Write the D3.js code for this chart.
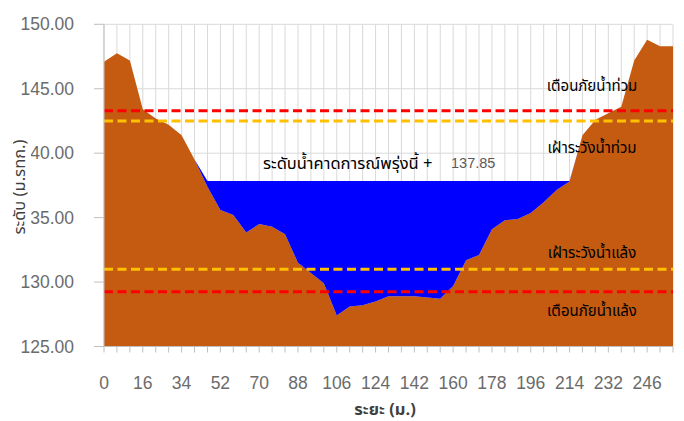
<!DOCTYPE html>
<html><head><meta charset="utf-8">
<script src="https://cdn.jsdelivr.net/npm/d3@7"></script>
<style>body{margin:0;background:#fff}</style>
</head><body>
<svg id="c" width="684" height="421"></svg>
<script>
const distances = [0,6,11,16,22,28,34,40,46,52,58,64,70,76,82,88,94,100,106,112,118,124,130,136,142,148,154,160,166,172,178,184,190,196,202,208,214,220,226,232,236,241,246,250,254];
const ground = [147.1,147.75,147.2,143.4,142.7,142.2,141.4,139.5,137.4,135.6,135.2,133.85,134.5,134.3,133.7,131.5,130.7,129.9,127.4,128.1,128.2,128.5,128.9,128.9,128.9,128.8,128.7,129.7,131.7,132.1,134.1,134.8,134.9,135.35,136.2,137.15,137.8,141.4,142.6,143.1,143.6,147.2,148.8,148.3,148.3];
const waterLevel = 137.85;
const thresholds = [
  {name:"เตือนภัยน้ำท่วม", value:143.3, color:"#FF0000"},
  {name:"เฝ้าระวังน้ำท่วม", value:142.5, color:"#FFC000"},
  {name:"เฝ้าระวังน้ำแล้ง", value:131.0, color:"#FFC000"},
  {name:"เตือนภัยน้ำแล้ง", value:129.25, color:"#FF0000"}
];
const yTicks = [125,130,135,140,145,150];
const yTickLabels = ["125.00","130.00","135.00","140.00","145.00","150.00"];
const xLabelEvery = 3;

const svg = d3.select("#c");
const thai = "'Noto Sans Thai','Tahoma','Noto Sans','DejaVu Sans',sans-serif";
const num = "'Liberation Sans',Arial,sans-serif";
const x = d3.scalePoint().domain(d3.range(distances.length)).range([104, 673]);
const y = d3.scaleLinear().domain([125,150]).range([346.5, 24.3]);

// gridlines
const g = svg.append("g");
g.selectAll("line.v").data(d3.range(distances.length)).join("line")
  .attr("x1", d=>x(d)).attr("x2", d=>x(d)).attr("y1", y(150)).attr("y2", y(125))
  .attr("stroke", "#d9d9d9").attr("stroke-width", 1);
g.selectAll("line.h").data(yTicks).join("line")
  .attr("x1", x(0)).attr("x2", x(distances.length-1)).attr("y1", d=>y(d)).attr("y2", d=>y(d))
  .attr("stroke", "#d9d9d9").attr("stroke-width", 1);

// ground area
const idx = d3.range(distances.length);
svg.append("path").datum(idx)
  .attr("d", d3.area().x(i=>x(i)).y0(y(125)).y1(i=>y(ground[i])))
  .attr("fill", "#C55A11");
// water area
svg.append("path").datum(idx)
  .attr("d", d3.area().x(i=>x(i)).y0(i=>y(ground[i])).y1(i=>y(Math.max(ground[i], waterLevel))))
  .attr("fill", "#0000FF");

// threshold lines
svg.selectAll("line.t").data(thresholds).join("line")
  .attr("x1", x(0)).attr("x2", x(distances.length-1))
  .attr("y1", d=>y(d.value)).attr("y2", d=>y(d.value))
  .attr("stroke", d=>d.color).attr("stroke-width", 3).attr("stroke-dasharray", "9,4.5");

// axes
svg.append("line").attr("x1", x(0)).attr("x2", x(0)).attr("y1", y(150)).attr("y2", y(125)+0.5)
  .attr("stroke", "#bfbfbf");
svg.append("line").attr("x1", x(0)).attr("x2", x(distances.length-1)).attr("y1", y(125)).attr("y2", y(125))
  .attr("stroke", "#bfbfbf");
svg.selectAll("line.yt").data(yTicks).join("line")
  .attr("x1", 94).attr("x2", x(0)).attr("y1", d=>y(d)).attr("y2", d=>y(d)).attr("stroke", "#bfbfbf");
svg.selectAll("line.xt").data(idx).join("line")
  .attr("x1", d=>x(d)).attr("x2", d=>x(d)).attr("y1", y(125)).attr("y2", y(125)+6).attr("stroke", "#bfbfbf");

svg.selectAll("text.yl").data(yTicks).join("text")
  .attr("x", 74).attr("y", d=>y(d)+6).attr("text-anchor", "end")
  .attr("font-family", num).attr("font-size", 17.5).attr("fill", "#6b6b6b")
  .text((d,i)=>yTickLabels[i]);
svg.selectAll("text.xl").data(idx.filter(i=>i%xLabelEvery===0)).join("text")
  .attr("x", d=>x(d)).attr("y", 389).attr("text-anchor", "middle")
  .attr("font-family", num).attr("font-size", 17.5).attr("fill", "#6b6b6b")
  .text(d=>distances[d]);

// y title with white box
svg.append("rect").attr("x", 4).attr("y", 114).attr("width", 27).attr("height", 146).attr("fill", "#fff");
svg.append("text").attr("transform", "translate(25,187) rotate(-90)").attr("text-anchor", "middle")
  .attr("font-family", thai).attr("font-size", 16.5).attr("fill", "#404040")
  .text("ระดับ (ม.รทก.)");
svg.append("text").attr("x", 385).attr("y", 415).attr("text-anchor", "middle")
  .attr("font-family", thai).attr("font-size", 16.5).attr("font-weight", "bold").attr("fill", "#404040")
  .text("ระยะ (ม.)");

// threshold labels
const labelY = [91, 153, 258, 316];
svg.selectAll("text.tl").data(thresholds).join("text")
  .attr("x", 592).attr("y", (d,i)=>labelY[i]).attr("text-anchor", "middle")
  .attr("font-family", thai).attr("font-size", 15).attr("fill", "#000")
  .text(d=>d.name);

// water level annotation
svg.append("text").attr("x", 263).attr("y", 169).attr("font-family", thai).attr("font-size", 16.5)
  .attr("fill", "#000").text("ระดับน้ำคาดการณ์พรุ่งนี้ +");
svg.append("text").attr("x", 451).attr("y", 168).attr("font-family", num).attr("font-size", 14.5)
  .attr("fill", "#595959").text(waterLevel.toFixed(2));
</script>
</body></html>
